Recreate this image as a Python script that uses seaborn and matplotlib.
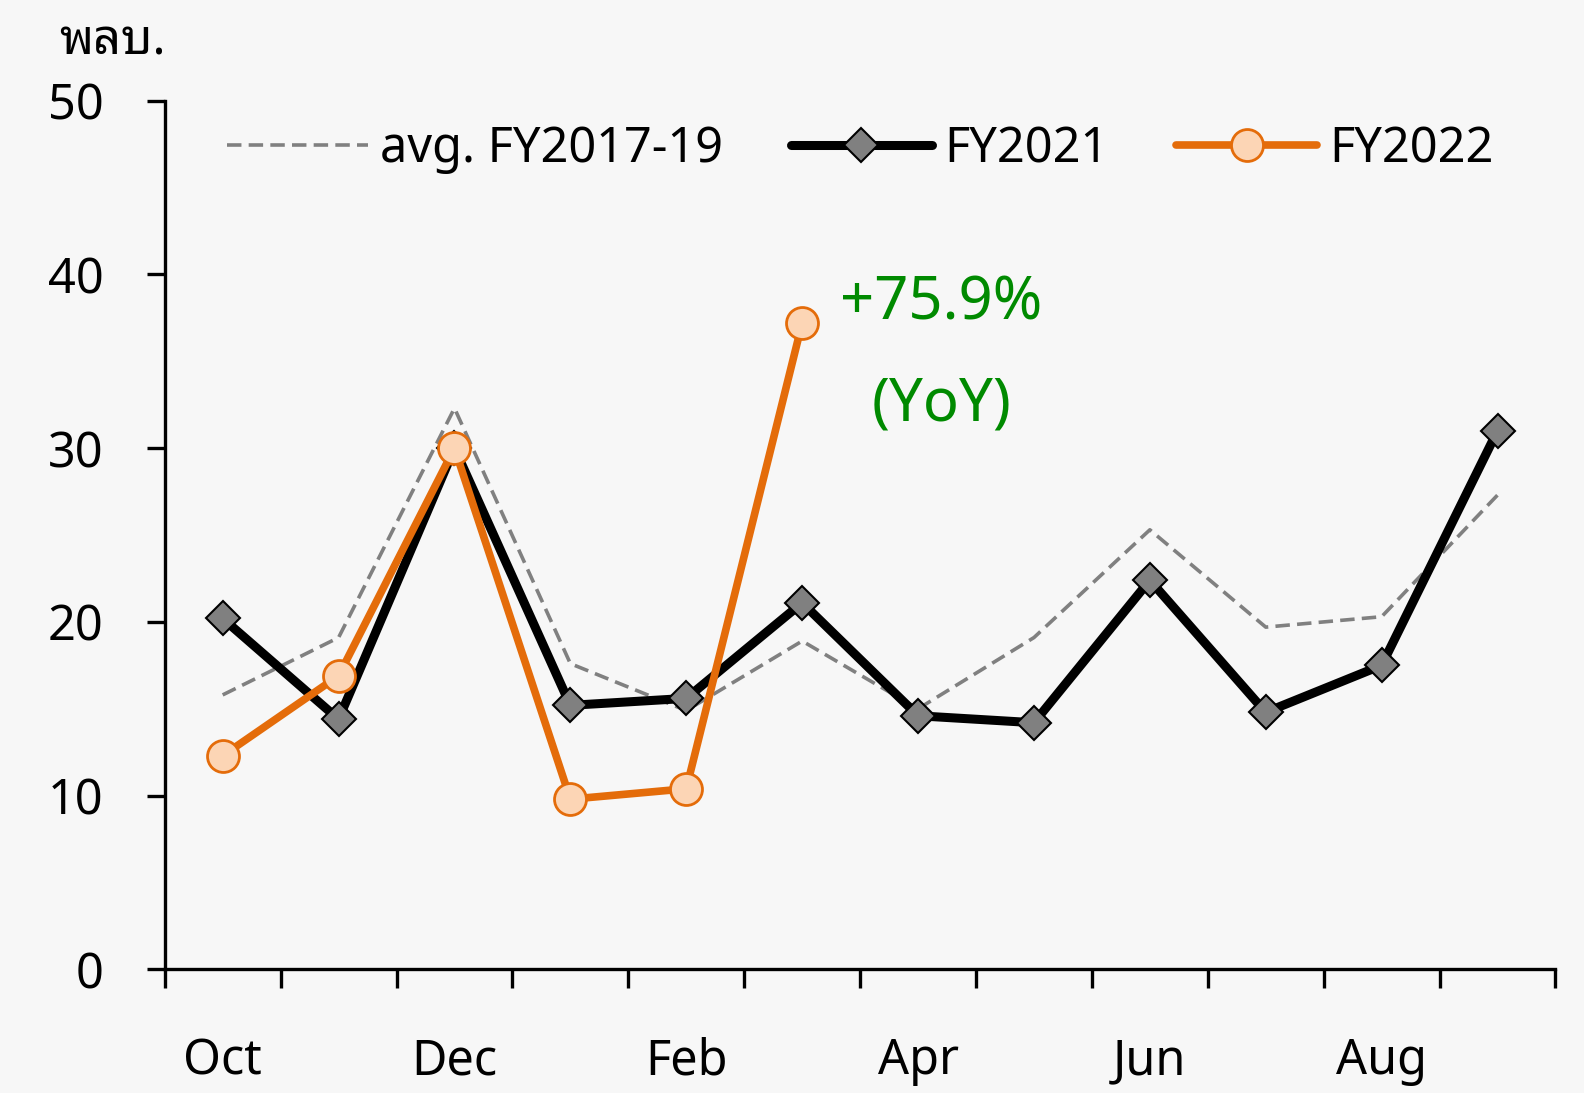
import matplotlib
matplotlib.use("Agg")
import matplotlib.pyplot as plt
import seaborn as sns
import numpy as np

# Monthly values (fiscal year Oct-Sep)
months = ["Oct", "Nov", "Dec", "Jan", "Feb", "Mar", "Apr", "May", "Jun", "Jul", "Aug", "Sep"]
avg_1719 = [15.8, 19.1, 32.3, 17.6, 14.9, 18.9, 15.0, 19.1, 25.3, 19.7, 20.3, 27.3]
fy2021 = [20.2, 14.4, 30.0, 15.2, 15.6, 21.1, 14.6, 14.2, 22.4, 14.8, 17.5, 31.0]
fy2022 = [12.3, 16.9, 30.0, 9.8, 10.4, 37.2]
shown_labels = ["Oct", "", "Dec", "", "Feb", "", "Apr", "", "Jun", "", "Aug", ""]

sns.set_style("white")
plt.rcParams["font.family"] = ["Noto Sans", "Noto Sans Thai Looped", "Noto Sans Thai", "DejaVu Sans"]
plt.rcParams["text.color"] = "black"
plt.rcParams["xtick.labelcolor"] = "black"
plt.rcParams["ytick.labelcolor"] = "black"

bg = "#f7f7f7"
fig = plt.figure(figsize=(15.84, 10.93), dpi=100, facecolor=bg)
ax = fig.add_axes([0.104, 0.113, 0.878, 0.795])
ax.set_facecolor(bg)

x_all = np.arange(len(months))
sns.lineplot(x=x_all, y=avg_1719, ax=ax, color="#808080", lw=2.6,
             linestyle=(0, (4, 2)), label="avg. FY2017-19")
sns.lineplot(x=x_all, y=fy2021, ax=ax, color="black", lw=6.5,
             marker="D", markersize=17, markerfacecolor="#808080",
             markeredgecolor="black", markeredgewidth=1.5, label="FY2021")
sns.lineplot(x=x_all[:len(fy2022)], y=fy2022, ax=ax, color="#E46C0A", lw=5.5,
             marker="o", markersize=23, markerfacecolor="#FCD5B5",
             markeredgecolor="#E46C0A", markeredgewidth=2, label="FY2022")

ax.set_xlim(-0.5, 11.5)
ax.set_ylim(0, 50)
ax.set_yticks(range(0, 51, 10))
ax.set_xticks(np.arange(-0.5, 12, 1))
ax.set_xticklabels([])
ax.set_xticks(x_all, minor=True)
ax.set_xticklabels(shown_labels, minor=True)
ax.tick_params(axis="x", which="major", bottom=True, direction="out", length=14, width=2.4, color="black")
ax.tick_params(axis="x", which="minor", bottom=True, length=0, pad=48, labelsize=35)
ax.tick_params(axis="y", left=True, direction="out", length=13, width=2.4, color="black",
               labelsize=35, pad=31)

for s in ["top", "right"]:
    ax.spines[s].set_visible(False)
for s in ["left", "bottom"]:
    ax.spines[s].set_linewidth(2.4)
    ax.spines[s].set_color("black")

ax.text(-0.49, 53.4, "พลบ.", fontsize=35, ha="right", va="center",
        family=["Noto Sans Thai Looped", "Noto Sans Thai", "Noto Sans", "DejaVu Sans"])

ax.text(6.2, 38.3, "+75.9%", color="#008A00", fontsize=43, ha="center", va="center")
ax.text(6.2, 32.5, "(YoY)", color="#008A00", fontsize=43, ha="center", va="center")

ax.legend(loc="upper center", bbox_to_anchor=(0.5, 0.995), ncol=3, frameon=False,
          borderaxespad=0, fontsize=35, handlelength=2.9, columnspacing=1.4, handletextpad=0.25)

fig.savefig("out.png", dpi=100, facecolor=bg)
